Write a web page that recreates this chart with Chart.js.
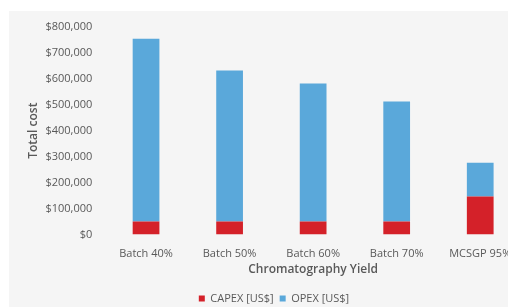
<!DOCTYPE html>
<html>
<head>
<meta charset="utf-8">
<script src="https://cdn.jsdelivr.net/npm/chart.js@4/dist/chart.umd.min.js"></script>
<style>
  html, body { margin: 0; padding: 0; background: #fff; overflow: hidden; width: 508px; height: 307px; }
  #wrap { position: absolute; left: 9px; top: 11px; width: 530px; height: 303px; background: #f5f5f5; }
</style>
</head>
<body>
<div id="wrap"><canvas id="myChart" width="530" height="303"></canvas></div>
<script>
(() => {
    "use strict";

    // Data
    const categories = ["Batch 40%", "Batch 50%", "Batch 60%", "Batch 70%", "MCSGP 95%"];
    const capex = [50000, 50000, 50000, 50000, 146000];
    const opex = [705000, 582000, 532000, 463000, 130000];
    const yTicks = [0, 100000, 200000, 300000, 400000, 500000, 600000, 700000, 800000];

    const grey = "#595959";
    const font = "'Open Sans', 'Liberation Sans', sans-serif";

    const ctx = document.getElementById("myChart").getContext("2d");
    // eslint-disable-next-line no-unused-vars
    const myChart = new Chart(ctx, {
        type: "bar",
        data: {
            labels: categories,
            datasets: [{
                label: "CAPEX [US$]",
                data: capex,
                backgroundColor: "#d42129",
                categoryPercentage: 0.8,
                barPercentage: 0.4
            }, {
                label: "OPEX [US$]",
                data: opex,
                backgroundColor: "#5aa8da",
                categoryPercentage: 0.8,
                barPercentage: 0.4
            }]
        },
        options: {
            responsive: false,
            animation: false,
            layout: { padding: { top: 16, right: 17, left: 17, bottom: 0 } },
            plugins: {
                tooltip: { enabled: false },
                legend: {
                    position: "bottom",
                    labels: {
                        boxWidth: 6,
                        boxHeight: 6,
                        padding: 6,
                        color: grey,
                        font: { family: font, size: 11 }
                    }
                }
            },
            scales: {
                x: {
                    stacked: true,
                    grid: { display: false },
                    border: { display: false },
                    ticks: { color: grey, font: { family: font, size: 11 }, padding: 5 },
                    title: {
                        display: true,
                        text: "Chromatography Yield",
                        color: grey,
                        font: { family: font, size: 12, weight: "600" },
                        padding: { top: -3, bottom: 10 }
                    }
                },
                y: {
                    stacked: true,
                    min: 0,
                    max: 800000,
                    grid: { display: false },
                    border: { display: false },
                    afterBuildTicks: (axis) => { axis.ticks = yTicks.map(v => ({ value: v })); },
                    ticks: {
                        color: grey,
                        font: { family: font, size: 11 },
                        padding: 4,
                        callback: (v) => "$" + Number(v).toLocaleString("en-US")
                    },
                    title: {
                        display: true,
                        text: "Total cost",
                        color: grey,
                        font: { family: font, size: 12, weight: "600" },
                        padding: { top: 0, bottom: 1 }
                    }
                }
            }
        }
    });
})();
</script>
</body>
</html>
